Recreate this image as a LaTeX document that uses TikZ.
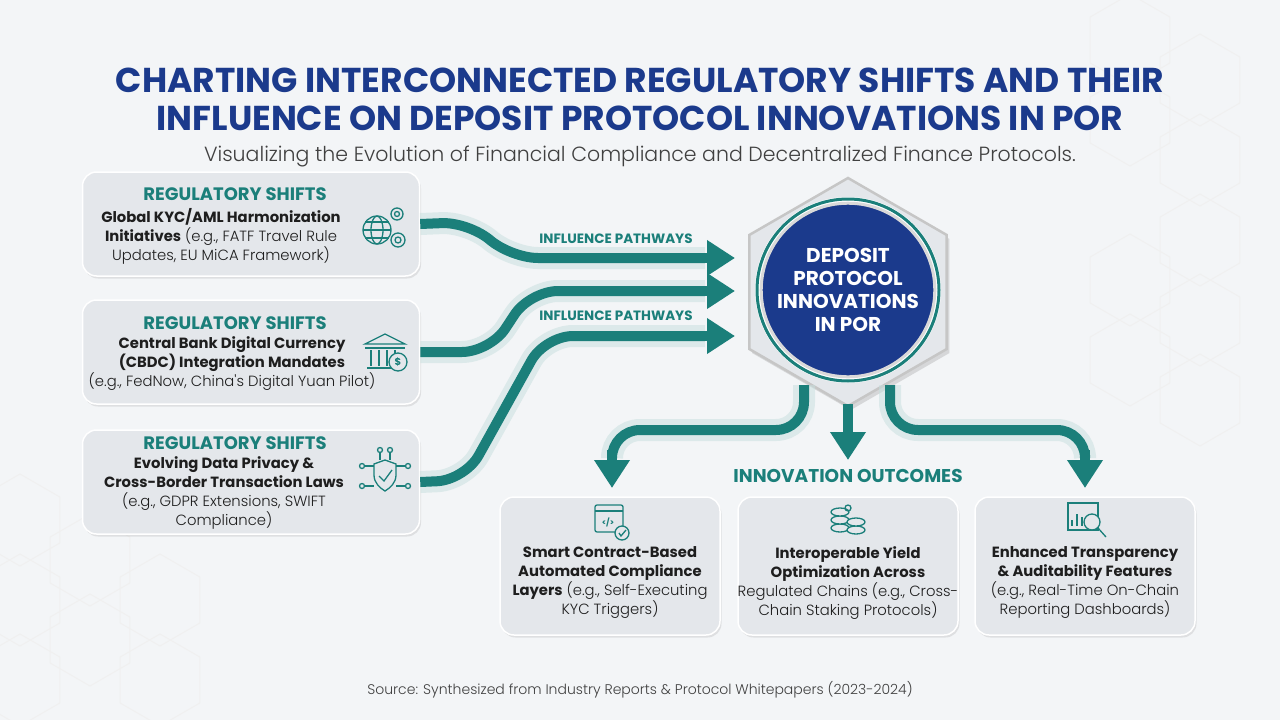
\documentclass[tikz,border=0pt]{standalone}
\usepackage{fontspec}
\setmainfont{Poppins}
\newfontfamily\pop{Poppins}
\newfontfamily\popl{Poppins Light}
\usetikzlibrary{arrows.meta,shadows,calc,shapes.geometric}
\definecolor{bg}{HTML}{F3F5F7}
\definecolor{teal}{HTML}{1B7F7A}
\definecolor{navy}{HTML}{1B3A8C}
\definecolor{boxf}{HTML}{E4E7EB}
\definecolor{txt}{HTML}{1E1E1E}
\begin{document}
\begin{tikzpicture}[x=1pt,y=-1pt,
  box/.style={draw=white,line width=1.5pt,fill=boxf,rounded corners=14pt,drop shadow={shadow xshift=1.5pt,shadow yshift=-2.5pt,opacity=0.18}},
  flow/.style={draw=teal,line width=10pt,rounded corners=28pt},
  glow/.style={draw=teal!25,line width=22pt,rounded corners=28pt,opacity=0.5},
  tip/.style={-{Triangle[length=28pt,width=34pt]}},
  head/.style={font=\pop\bfseries\fontsize{18}{20}\selectfont,text=teal},
  body/.style={font=\fontsize{14.8}{19}\selectfont,text=txt,align=center},
  lbl/.style={font=\pop\bfseries\fontsize{13.5}{15}\selectfont,text=teal},
  ic/.style={draw=teal,line width=1.3pt}]
\fill[bg] (0,0) rectangle (1280,720);
\useasboundingbox (0,0) rectangle (1280,720);
% faint hexagons
\foreach \cx/\cy in {1130/40,1200/80,1130/120,1200/160,1200/240,1130/280,1200/320,1130/360,1200/400,20/520,90/560,20/600,90/640,160/600,160/680,20/680}
  \draw[gray!12,line width=1pt] (\cx,\cy) +(90:46) -- +(150:46) -- +(210:46) -- +(270:46) -- +(330:46) -- +(30:46) -- cycle;
% title
\node[font=\pop\bfseries\fontsize{34.5}{38}\selectfont,text=navy,align=center] (title) at (640,99) {CHARTING INTERCONNECTED REGULATORY SHIFTS AND THEIR\\INFLUENCE ON DEPOSIT PROTOCOL INNOVATIONS IN POR};
\node[font=\popl\fontsize{20.5}{22}\selectfont,text=txt!85] (sub) at (640,156) {Visualizing the Evolution of Financial Compliance and Decentralized Finance Protocols.};
% left boxes
\node[box,minimum width=337pt,minimum height=104pt] (b1) at (251,224) {};
\node[box,minimum width=337pt,minimum height=104pt] (b2) at (251,352) {};
\node[box,minimum width=337pt,minimum height=104pt] (b3) at (251,482) {};
\node[head] (h1) at (235,194) {REGULATORY SHIFTS};
\node[body] (t1) at (221,236) {\textbf{Global KYC/AML Harmonization}\\\textbf{Initiatives} {\popl(e.g., FATF Travel Rule}\\{\popl Updates, EU MiCA Framework)}};
\node[head] (h2) at (235,323) {REGULATORY SHIFTS};
\node[body] (t2) at (232,364) {\textbf{Central Bank Digital Currency}\\\textbf{(CBDC) Integration Mandates}\\{\popl(e.g., FedNow, China's Digital Yuan Pilot)}};
\node[head] (h3) at (235,443) {REGULATORY SHIFTS};
\node[body] (t3) at (224,493) {\textbf{Evolving Data Privacy \&}\\\textbf{Cross-Border Transaction Laws}\\{\popl(e.g., GDPR Extensions, SWIFT}\\{\popl Compliance)}};
% icons left
\begin{scope}[ic]
 \draw (377,230) circle (14); \draw (377,230) ellipse (6 and 14); \draw (363,230)--(391,230); \draw (365,222)--(389,222); \draw (365,238)--(389,238);
 \draw[fill=boxf] (397,214) circle (6); \draw (397,214) circle (2.5);
 \draw[fill=boxf] (398,240) circle (7); \draw (398,240) circle (3);
 \draw (365,344)--(385,334)--(405,344)--cycle; \draw (365,348)--(405,348); \draw (367,368)--(403,368);
 \foreach \x in {371,379,387,395} \draw (\x,350)--(\x,366);
 \draw[fill=boxf] (398,362) circle (9); \node[text=teal,font=\bfseries\fontsize{10}{10}\selectfont] at (398,362) {\$};
 \draw (385,460) -- (396,464) -- (396,475) .. controls (396,483) and (390,488) .. (385,491) .. controls (380,488) and (374,483) .. (374,475) -- (374,464) -- cycle;
 \draw (379,476)--(384,481)--(392,470);
 \foreach \a/\b/\c/\d in {362/466/374/466,362/486/374/486,396/466/408/466,396/486/408/486,380/452/380/460,390/452/390/460}
   \draw (\a,\b)--(\c,\d);
 \foreach \p in {(362,466),(362,486),(408,466),(408,486),(380,450),(390,450)} \draw[fill=boxf] \p circle (2.5);
\end{scope}
% hexagon + core
\node[draw=gray!45,line width=2.5pt,fill=boxf,regular polygon,regular polygon sides=6,shape border rotate=90,minimum size=228pt,drop shadow={opacity=0.25,shadow yshift=-4pt}] (hex) at (848,292) {};
\fill[white] (848,290) circle (93);
\draw[teal,line width=3pt] (848,290) circle (91);
\node[circle,fill=navy,minimum size=160pt,draw=gray!30,line width=3pt,text=white,font=\pop\bfseries\fontsize{20}{23}\selectfont,align=center] (core) at (848,290) {DEPOSIT\\PROTOCOL\\INNOVATIONS\\IN POR};
% influence arrows
\coordinate (e1) at (735,258); \coordinate (e2) at (735,291); \coordinate (e3) at (735,336);
\foreach \g in {glow,flow} {
 \draw[\g] (b1.east) -- (470,222) -- (510,258) -- ($(e1)+(-30,0)$);
 \draw[\g] (b2.east) -- (490,352) -- (530,291) -- ($(e2)+(-30,0)$);
 \draw[\g] (b3.east) -- (465,480) -- (545,336) -- ($(e3)+(-30,0)$);
}
\draw[flow,tip] (700,258) -- (e1);
\draw[flow,tip] (700,291) -- (e2);
\draw[flow,tip] (700,336) -- (e3);
\node[lbl] (p1) at (616,239) {INFLUENCE PATHWAYS};
\node[lbl] (p2) at (616,316) {INFLUENCE PATHWAYS};
% outcomes arrows
\coordinate (o1) at (612,488); \coordinate (o2) at (848,460); \coordinate (o3) at (1085,488);
\foreach \g in {glow,flow} {
 \draw[\g] (804,385) -- (804,430) -- (612,430) -- (612,455);
 \draw[\g] (890,385) -- (890,430) -- (1085,430) -- (1085,455);
}
\draw[flow,tip] (612,450) -- (o1);
\draw[flow,tip] (1085,450) -- (o3);
\draw[flow,tip] (848,404) -- (o2);
\node[font=\pop\bfseries\fontsize{18.5}{20}\selectfont,text=teal] (io) at (848,476) {INNOVATION OUTCOMES};
% bottom boxes
\node[box,minimum width=220pt,minimum height=138pt] (c1) at (610,566) {};
\node[box,minimum width=220pt,minimum height=138pt] (c2) at (848,566) {};
\node[box,minimum width=220pt,minimum height=138pt] (c3) at (1085,566) {};
\node[body] (ct1) at (610,583) {\textbf{Smart Contract-Based}\\\textbf{Automated Compliance}\\\textbf{Layers} {\popl(e.g., Self-Executing}\\{\popl KYC Triggers)}};
\node[body] (ct2) at (848,583) {\textbf{Interoperable Yield}\\\textbf{Optimization Across}\\{\popl Regulated Chains (e.g., Cross-}\\{\popl Chain Staking Protocols)}};
\node[body] (ct3) at (1085,583) {\textbf{Enhanced Transparency}\\\textbf{\& Auditability Features}\\{\popl(e.g., Real-Time On-Chain}\\{\popl Reporting Dashboards)}};
\begin{scope}[ic]
 \draw[rounded corners=2pt] (595,505) rectangle (623,532); \draw (595,511)--(623,511);
 \node[text=teal,font=\bfseries\fontsize{8}{8}\selectfont] at (608,522) {</>};
 \draw[fill=boxf] (622,533) circle (7); \draw (619,533)--(621,536)--(626,530);
 \foreach \y in {528,520,512} \draw[fill=boxf] (840,\y) ellipse (9 and 4);
 \foreach \y in {530,522} \draw[fill=boxf] (856,\y) ellipse (9 and 4);
 \draw (848,508) circle (3);
 \draw (1068,503) rectangle (1098,530); \draw (1072,520)--(1072,526) (1077,514)--(1077,526) (1082,517)--(1082,526);
 \draw[fill=boxf] (1092,522) circle (8); \draw (1098,528)--(1106,537);
\end{scope}
\node[font=\popl\fontsize{14}{16}\selectfont,text=txt!85] (src) at (640,690) {Source: Synthesized from Industry Reports \& Protocol Whitepapers (2023-2024)};
\end{tikzpicture}
\end{document}
